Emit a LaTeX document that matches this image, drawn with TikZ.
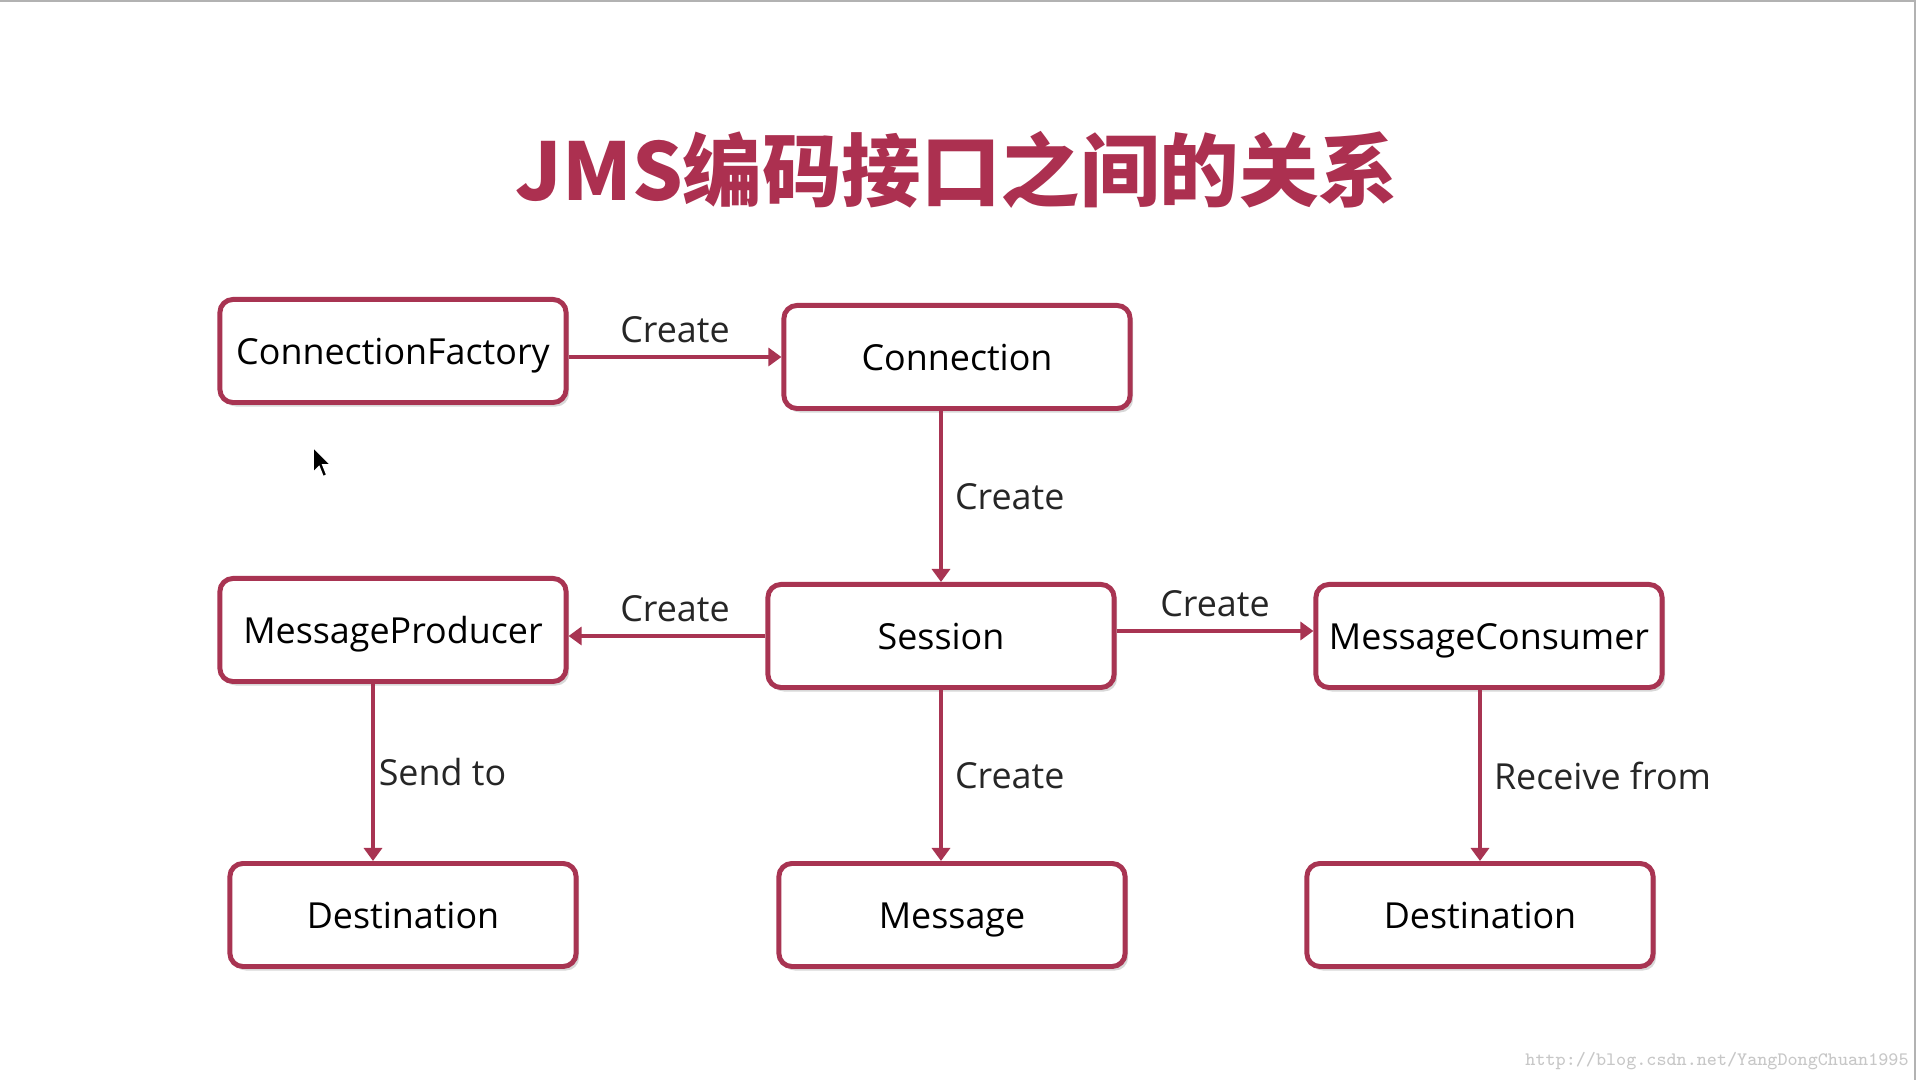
\documentclass[tikz,border=0pt]{standalone}
\usepackage{fontspec}
\setmainfont{Open Sans}
\newfontfamily\cjk{Noto Sans CJK SC}
\usetikzlibrary{arrows.meta}
\usetikzlibrary{shadows}
\definecolor{jmsred}{RGB}{172,48,80}
\definecolor{boxred}{RGB}{168,52,82}

\begin{document}
\begin{tikzpicture}[x=0.01cm, y=-0.01cm,
    jbox/.style={draw=boxred, line width=1.4pt, rounded corners=0.13cm, fill=white,
      minimum width=3.46cm, minimum height=1.03cm, text height=8.6pt, text depth=1.2pt,
      font=\fontsize{10.2}{12}\selectfont,
      drop shadow={shadow xshift=0.03cm, shadow yshift=-0.04cm, opacity=0.25, fill=black!60}},
    link/.style={draw=boxred, line width=1.3pt, -{Triangle[length=0.13cm, width=0.18cm]}},
    lbl/.style={font=\fontsize{10.2}{12}\selectfont, text=black!85}]
  \useasboundingbox (0,0) rectangle (1920,1080);
  \fill[white] (0,0) rectangle (1920,1080);
  \draw[gray!60, line width=0.6pt] (0,1) -- (1915,1) -- (1915,1080);

  \node[text=jmsred, font=\cjk\bfseries\fontsize{22.6}{26}\selectfont] (title) at (957,170) {JMS编码接口之间的关系};

  \node[jbox] (cf) at (393,351) {ConnectionFactory};
  \node[jbox] (conn) at (957,357) {Connection};
  \node[jbox] (prod) at (393,630) {MessageProducer};
  \node[jbox] (sess) at (941,636) {Session};
  \node[jbox] (cons) at (1489,636) {MessageConsumer};
  \node[jbox] (dst1) at (403,915) {Destination};
  \node[jbox] (msg) at (952,915) {Message};
  \node[jbox] (dst2) at (1480,915) {Destination};

  \draw[link] (cf.east |- conn.west) -- node[lbl, above] {Create} (conn.west);
  \draw[link] (conn.south -| sess.north) -- node[lbl, right] {Create} (sess.north);
  \draw[link] (sess.west) -- node[lbl, above, xshift=0.08cm] {Create} (sess.west -| prod.east);
  \draw[link] ([yshift=0.05cm]sess.east) -- node[lbl, above] {Create} ([yshift=0.05cm]sess.east -| cons.west);
  \draw[link] ([xshift=-0.2cm]prod.south) -- node[lbl, right, inner sep=1pt] {Send to} ([xshift=-0.2cm]prod.south |- dst1.north);
  \draw[link] (sess.south) -- node[lbl, right] {Create} (sess.south |- msg.north);
  \draw[link] ([xshift=-0.09cm]cons.south) -- node[lbl, right] {Receive from} ([xshift=-0.09cm]cons.south |- dst2.north);

  % mouse pointer
  \filldraw[fill=black, draw=white, line width=0.5pt] (313,447) -- (313,473) -- (319,467) -- (323,477) -- (327,475) -- (323,465) -- (331,465) -- cycle;

  \node[text=black!22, font=\ttfamily\fontsize{5.4}{6}\selectfont] (wm) at (1717,1061) {http://blog.csdn.net/YangDongChuan1995};
\end{tikzpicture}
\end{document}
